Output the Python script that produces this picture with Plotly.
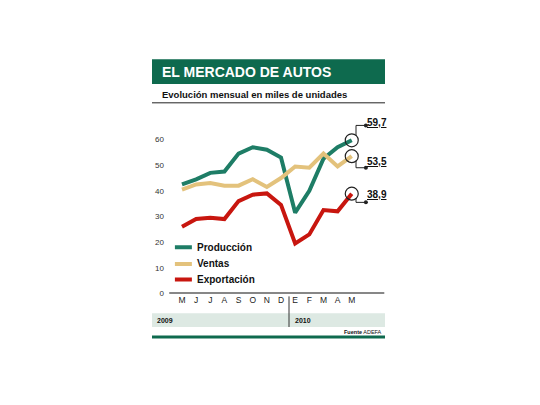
import plotly.graph_objects as go

months = ["M","J","J","A","S","O","N","D","E","F","M","A","M"]
produccion = [42.5,44.5,47,47.5,54.5,57,56,53,31.5,40,52.5,57,59.7]
ventas = [40.5,42.5,43,42,42,44.5,41.5,45,49.5,49,54.5,49.5,53.5]
exportacion = [26,29,29.5,29,36,38.5,39,34.5,19.5,23,32.5,32,38.9]
names = ["Producción","Ventas","Exportación"]
colors = ["#1e7d66","#e3c27c","#c8160f"]
end_labels = ["59,7","53,5","38,9"]
yticks = [0,10,20,30,40,50,60]

FONT = "Liberation Sans Narrow, Arial Narrow, Liberation Sans, sans-serif"
W, H = 540, 405
OFF = 8
def px(x): return (x - OFF) / W
def py(y): return 1 - (y - OFF) / H

x = list(range(len(months)))
fig = go.Figure()
for n, s, c in zip(names, [produccion, ventas, exportacion], colors):
    fig.add_trace(go.Scatter(x=x, y=s, name=n, mode="lines", showlegend=False,
                             line=dict(color=c, width=4)))
# manual legend
for n, c, yy in zip(names, colors, [18, 11.5, 5.4]):
    fig.add_trace(go.Scatter(x=[-0.5, 0.7], y=[yy, yy], mode="lines", showlegend=False,
                             line=dict(color=c, width=4), hoverinfo="skip"))
    fig.add_annotation(x=0.9, y=yy, text="<b>"+n+"</b>", showarrow=False, xanchor="left",
                       xref="x", yref="y", font=dict(size=10, color="#111", family=FONT))
last = len(months) - 1
fig.add_trace(go.Scatter(x=[last]*3, y=[produccion[-1], ventas[-1], exportacion[-1]],
                         mode="markers", showlegend=False,
                         marker=dict(symbol="circle-open", size=13, color="#222", line=dict(width=1.2))))
conn = [(produccion[-1], 1, 65.5), (ventas[-1], -1, 49), (exportacion[-1], -1, 35.5)]
for v, sgn, yend in conn:
    fig.add_trace(go.Scatter(x=[last+0.3, last+0.3, last+1.0], y=[v+sgn*1.8, yend, yend],
                             mode="lines", showlegend=False, line=dict(color="#222", width=1)))
    fig.add_trace(go.Scatter(x=[last+1.0], y=[yend], mode="markers", showlegend=False,
                             marker=dict(color="#222", size=4)))
for lab, yy in zip(end_labels, [66.5, 51.5, 38.5]):
    fig.add_annotation(x=last+1.75, y=yy, text="<b><u>"+lab+"</u></b>", showarrow=False,
                       xref="x", yref="y", font=dict(size=10, color="#111", family=FONT))

shapes = [
    dict(type="rect", xref="paper", yref="paper", x0=px(152), x1=px(385), y0=py(85), y1=py(60),
         fillcolor="#0e6a4e", line=dict(width=0)),
    dict(type="line", xref="paper", yref="paper", x0=px(152), x1=px(385), y0=py(104), y1=py(104),
         line=dict(color="#222", width=1)),
    dict(type="rect", xref="paper", yref="paper", x0=px(152), x1=px(385), y0=py(331), y1=py(317),
         fillcolor="#dde9e3", line=dict(width=0)),
    dict(type="line", xref="paper", yref="paper", x0=px(289), x1=px(289), y0=py(331), y1=py(300),
         line=dict(color="#333", width=1)),
    dict(type="line", xref="paper", yref="paper", x0=px(152), x1=px(385), y0=py(341), y1=py(341),
         line=dict(color="#0e6a4e", width=3)),
]
anns = [
    dict(text="<b>EL MERCADO DE AUTOS</b>", x=px(160), y=py(73), size=14, color="white", xanchor="left"),
    dict(text="<b>Evolución mensual en miles de unidades</b>", x=px(160), y=py(96), size=9.5, color="#111", xanchor="left"),
    dict(text="<b>2009</b>", x=px(155), y=py(324), size=7, color="#111", xanchor="left"),
    dict(text="<b>2010</b>", x=px(293), y=py(324), size=7, color="#111", xanchor="left"),
    dict(text="<b>Fuente</b> ADEFA", x=px(384), y=py(336), size=5.5, color="#111", xanchor="right"),
]
for a in anns:
    fig.add_annotation(text=a["text"], x=a["x"], y=a["y"], xref="paper", yref="paper",
                       xanchor=a["xanchor"], yanchor="middle", showarrow=False,
                       font=dict(size=a["size"], color=a["color"], family=FONT))

fig.update_layout(
    width=W, height=H, margin=dict(l=0, r=0, t=0, b=0),
    paper_bgcolor="white", plot_bgcolor="white", shapes=shapes,
    font=dict(family=FONT, color="#222"), showlegend=False,
    xaxis=dict(domain=[px(165), px(385)], range=[-1.2, 14.35], tickvals=x, ticktext=months,
               showgrid=False, zeroline=False, showline=False, tickfont=dict(size=8.5), ticks=""),
    yaxis=dict(domain=[py(297), py(110)], range=[0, 72], tickvals=yticks, showgrid=False,
               zeroline=False, showline=False, tickfont=dict(size=8, color="#333"), ticks=""),
)
fig.add_shape(type="line", xref="x", yref="y", x0=-0.9, x1=14.3, y0=0, y1=0, line=dict(color="#111", width=2))
fig.write_html("out.html")
